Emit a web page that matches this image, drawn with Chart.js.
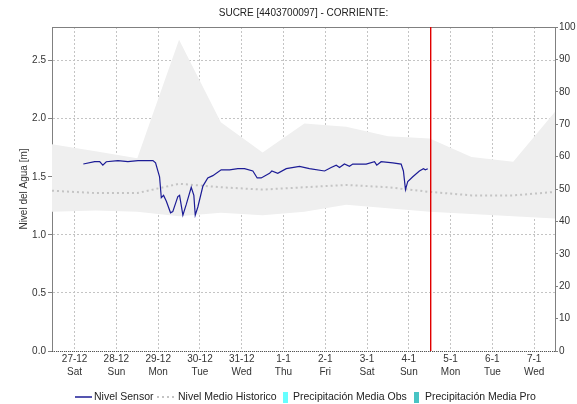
<!DOCTYPE html>
<html>
<head>
<meta charset="utf-8">
<script src="https://cdn.jsdelivr.net/npm/chart.js@4.4.0/dist/chart.umd.min.js"></script>
<style>
  html, body { margin: 0; padding: 0; background: #fff; }
</style>
</head>
<body>
<canvas id="myChart" width="577" height="404"></canvas>
<script>
// x values are hours counted from 27-12 00:00
var dayTicks   = [0, 24, 48, 72, 96, 120, 144, 168, 192, 216, 240, 264];
var dateLabels = ['27-12', '28-12', '29-12', '30-12', '31-12', '1-1', '2-1', '3-1', '4-1', '5-1', '6-1', '7-1'];
var dayNames   = ['Sat', 'Sun', 'Mon', 'Tue', 'Wed', 'Thu', 'Fri', 'Sat', 'Sun', 'Mon', 'Tue', 'Wed'];

// sensor readings (m)
var sensorHours = [5, 11.5, 14.4, 16.2, 18.2, 24.9, 30.6, 36.4, 45, 46.5,
  48.8, 49.8, 51.1, 52.7, 55.1, 56.4, 59.3, 60.3, 62.2, 64.1,
  67, 68.5, 69.3, 70.8, 73.7, 76.5, 79.4, 84.2, 89, 93.8,
  97.6, 102.4, 104.9, 107.2, 112, 113.3, 116.7, 121.6, 129.2, 134.9,
  143.6, 147.4, 150.3, 152.2, 155, 157.9, 159.8, 167.5, 172.3, 173.6,
  176.1, 182.8, 187.6, 188.9, 190.1, 191.4, 194.3, 198.1, 200.4, 201.5, 202.9];
var sensorLevel = [1.61, 1.63, 1.63, 1.60, 1.63, 1.64, 1.63, 1.64, 1.64, 1.62,
  1.50, 1.32, 1.34, 1.29, 1.19, 1.20, 1.33, 1.34, 1.17, 1.26,
  1.41, 1.34, 1.17, 1.24, 1.42, 1.49, 1.51, 1.56, 1.56, 1.57,
  1.57, 1.55, 1.49, 1.49, 1.53, 1.55, 1.53, 1.57, 1.59, 1.57,
  1.55, 1.58, 1.60, 1.58, 1.61, 1.59, 1.61, 1.61, 1.63, 1.60,
  1.63, 1.62, 1.61, 1.55, 1.39, 1.46, 1.50, 1.55, 1.57, 1.56, 1.57];

// historical level: mean, upper and lower envelope (m)
var histHours = [-13, 12, 36, 60, 84, 108, 132, 156, 180, 204, 228, 252, 276];
var histMean  = [1.38, 1.36, 1.36, 1.44, 1.41, 1.39, 1.41, 1.43, 1.41, 1.37, 1.34, 1.34, 1.37];
var histMax   = [1.78, 1.72, 1.66, 2.68, 1.97, 1.71, 1.96, 1.93, 1.85, 1.83, 1.67, 1.63, 2.06];
var histMin   = [1.20, 1.21, 1.20, 1.16, 1.19, 1.17, 1.20, 1.26, 1.23, 1.20, 1.18, 1.16, 1.14];

// precipitation (mm) - no values in this period
var precipObs = [];
var precipPro = [];

var nowHour = 205;

var chartTitle = 'SUCRE [4403700097] - CORRIENTE:';
var legendLabels = ['Nivel Sensor', 'Nivel Medio Historico', 'Precipitación Media Obs', 'Precipitación Media Pro'];

function pts(xs, ys) {
  return xs.map(function (x, i) { return { x: x, y: ys[i] }; });
}

Chart.defaults.font.family = '"Liberation Sans", Arial, sans-serif';
Chart.defaults.font.size = 10;
Chart.defaults.color = '#333';

// title over the plot, red "now" marker, top and bottom frame lines
var framePlugin = {
  id: 'frame',
  afterDatasetsDraw: function (chart) {
    var ctx = chart.ctx, a = chart.chartArea;
    var xs = chart.scales.x;
    ctx.save();
    ctx.fillStyle = '#808080';
    ctx.fillRect(a.left, Math.round(a.top), a.right - a.left, 1);
    ctx.fillStyle = '#555';
    for (var bx = a.left; bx < a.right; bx += 2) {
      ctx.fillRect(bx, Math.round(a.bottom), 1, 1);
    }
    var nx = Math.floor(xs.getPixelForValue(nowHour) / 2) * 2;
    ctx.fillStyle = '#e00000';
    ctx.fillRect(nx, a.top, 1, a.bottom - a.top);
    ctx.fillStyle = 'rgba(230, 0, 0, 0.4)';
    ctx.fillRect(nx + 1, a.top, 1, a.bottom - a.top);

    ctx.font = '10px "Liberation Sans", Arial, sans-serif';
    ctx.fillStyle = '#222';
    ctx.textAlign = 'center';
    ctx.textBaseline = 'middle';
    ctx.fillText(chartTitle, (a.left + a.right) / 2, 13);
    ctx.restore();
  }
};

// legend row under the axis
var legendPlugin = {
  id: 'bottomLegend',
  afterDraw: function (chart) {
    var ctx = chart.ctx;
    var y = 397;
    var xPos = [75, 157, 283, 414];
    ctx.save();
    ctx.font = '10.5px "Liberation Sans", Arial, sans-serif';
    ctx.textBaseline = 'middle';
    ctx.fillStyle = '#222';
    // solid line
    ctx.strokeStyle = '#1c1c96';
    ctx.lineWidth = 1.5;
    ctx.beginPath();
    ctx.moveTo(xPos[0], y);
    ctx.lineTo(xPos[0] + 17, y);
    ctx.stroke();
    ctx.fillText(legendLabels[0], xPos[0] + 19, y);
    // dotted line
    ctx.strokeStyle = '#c4c4c4';
    ctx.lineWidth = 2;
    ctx.setLineDash([2, 3]);
    ctx.beginPath();
    ctx.moveTo(xPos[1], y);
    ctx.lineTo(xPos[1] + 18, y);
    ctx.stroke();
    ctx.setLineDash([]);
    ctx.fillText(legendLabels[1], xPos[1] + 21, y);
    // boxes
    ctx.fillStyle = '#66ffff';
    ctx.fillRect(xPos[2], y - 5, 5, 11);
    ctx.fillStyle = '#222';
    ctx.fillText(legendLabels[2], xPos[2] + 10, y);
    ctx.fillStyle = '#48c4c4';
    ctx.fillRect(xPos[3], y - 5, 5, 11);
    ctx.fillStyle = '#222';
    ctx.fillText(legendLabels[3], xPos[3] + 11, y);
    ctx.restore();
  }
};

var ctx = document.getElementById('myChart').getContext('2d');
var chart = new Chart(ctx, {
  type: 'line',
  data: {
    datasets: [{
      label: legendLabels[0],
      data: pts(sensorHours, sensorLevel),
      borderColor: '#1c1c96',
      borderWidth: 1.2,
      pointRadius: 0,
      fill: false,
      yAxisID: 'y'
    }, {
      label: legendLabels[1],
      data: pts(histHours, histMean),
      borderColor: '#c4c4c4',
      borderWidth: 2,
      borderDash: [2, 3],
      pointRadius: 0,
      fill: false,
      yAxisID: 'y'
    }, {
      label: 'max',
      data: pts(histHours, histMax),
      borderColor: 'rgba(0,0,0,0)',
      backgroundColor: '#efefef',
      pointRadius: 0,
      fill: '+1',
      yAxisID: 'y'
    }, {
      label: 'min',
      data: pts(histHours, histMin),
      borderColor: 'rgba(0,0,0,0)',
      pointRadius: 0,
      fill: false,
      yAxisID: 'y'
    }, {
      type: 'bar',
      label: legendLabels[2],
      data: precipObs,
      backgroundColor: '#66ffff',
      yAxisID: 'y1'
    }, {
      type: 'bar',
      label: legendLabels[3],
      data: precipPro,
      backgroundColor: '#48c4c4',
      yAxisID: 'y1'
    }]
  },
  options: {
    responsive: false,
    animation: false,
    devicePixelRatio: 1,
    layout: { padding: { top: 27 } },
    plugins: {
      legend: { display: false },
      tooltip: { enabled: false },
      title: { display: false }
    },
    scales: {
      x: {
        type: 'linear',
        min: -13,
        max: 276,
        offset: false,
        afterBuildTicks: function (scale) {
          scale.ticks = dayTicks.map(function (v) { return { value: v }; });
        },
        afterFit: function (scale) { scale.height = 53; },
        ticks: {
          autoSkip: false,
          maxRotation: 0,
          padding: 2,
          font: { size: 10, lineHeight: 1.3 },
          callback: function (v, i) { return [dateLabels[i], dayNames[i]]; }
        },
        grid: { offset: false, color: '#c4c4c4', drawTicks: false },
        border: { display: false, dash: [2, 2] }
      },
      y: {
        position: 'left',
        min: 0,
        max: 2.79,
        afterFit: function (scale) { scale.width = 52; },
        ticks: {
          stepSize: 0.5,
          includeBounds: false,
          padding: 2,
          callback: function (v) { return v.toFixed(1); }
        },
        title: {
          display: true,
          text: 'Nivel del Agua [m]',
          color: '#333',
          font: { size: 10 },
          padding: { top: 18.5, bottom: 0 }
        },
        grid: { color: '#c4c4c4', tickColor: '#808080', tickLength: 4 },
        border: { color: '#808080', dash: [2, 2] }
      },
      y1: {
        position: 'right',
        min: 0,
        max: 100,
        afterFit: function (scale) { scale.width = 22; },
        ticks: { stepSize: 10, padding: 1 },
        grid: { drawOnChartArea: false, tickColor: '#808080', tickLength: 3 },
        border: { color: '#808080' }
      }
    }
  },
  plugins: [framePlugin, legendPlugin]
});
</script>
</body>
</html>
